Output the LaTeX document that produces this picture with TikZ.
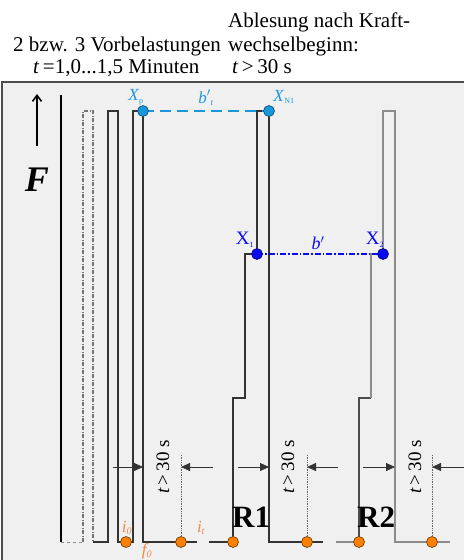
\documentclass[tikz,border=0pt]{standalone}
\usepackage{fontspec}
\setmainfont{Liberation Serif}
\usetikzlibrary{arrows.meta}
\definecolor{bgc}{HTML}{F0F0F0}
\definecolor{lblue}{HTML}{1A96DC}
\definecolor{dblue}{HTML}{0A0AF0}
\definecolor{odot}{HTML}{FF8000}
\definecolor{olab}{HTML}{F08848}
\begin{document}
\begin{tikzpicture}[x=1pt,y=-1pt,
  ln/.style={draw=black!80, line width=1.1pt},
  lngray/.style={draw=black!45, line width=1.1pt},
  dimarrow/.style={draw=black!80, line width=0.8pt, -{Triangle[length=9pt,width=8pt]}},
  dimline/.style={draw=black!60, line width=0.7pt, densely dotted},
  dimtext/.style={rotate=90, font=\fontsize{19}{19}\selectfont, inner sep=0pt},
  odotst/.style={circle, fill=odot, draw=black!60!odot, line width=0.6pt, minimum size=11pt, inner sep=0pt},
  lbdot/.style={circle, fill=lblue, draw=black!50!lblue, line width=0.6pt, minimum size=11pt, inner sep=0pt},
  dbdot/.style={circle, fill=dblue, draw=black!50!dblue, line width=0.6pt, minimum size=11pt, inner sep=0pt},
  toptext/.style={anchor=base west, inner sep=0pt, font=\fontsize{21}{22}\selectfont},
  lbl/.style={inner sep=0pt, font=\fontsize{17}{17}\selectfont},
  olbl/.style={inner sep=0pt, text=olab, font=\fontsize{17}{17}\selectfont\itshape},
  rlab/.style={anchor=base west, inner sep=0pt, font=\fontsize{31}{31}\selectfont\bfseries}
]
\useasboundingbox (0,0) rectangle (464,560);
\fill[white] (0,0) rectangle (464,560);
\fill[bgc] (2,82) rectangle (464,560);
\draw[black!70, line width=1.5pt] (2,560) -- (2,82) -- (464,82);

% header texts
\node[toptext] (h1) at (13,51) {2 bzw. 3 Vorbelastungen};
\node[toptext] (h2) at (33,73) {\textit{t}\,=1,0...1,5 Minuten};
\node[toptext] (h3) at (228,27) {Ablesung nach Kraft-};
\node[toptext] (h4) at (228,51) {wechselbeginn:};
\node[toptext] (h5) at (232,73) {\textit{t}\,>\,30 s};

% force arrow
\coordinate (fa) at (37,146);
\coordinate (fb) at (37,94);
\draw[line width=1.6pt, -{Straight Barb[length=6pt,width=9pt]}] (fa) -- (fb);
\node[inner sep=0pt, font=\fontsize{36}{36}\selectfont\bfseries\itshape] (F) at (37,180) {F};

% coordinates of special points
\coordinate (cxp) at (143,111);
\coordinate (cxn) at (269,111);
\coordinate (cx1) at (257,254);
\coordinate (cx2) at (383,254);

% signal lines
\draw[black, line width=2pt] (61,95) -- (61,542);
\draw[black!45, line width=0.8pt, dashed] (61,542) -- (83,542);
\draw[black!55, line width=1.1pt, dash pattern=on 4pt off 1.5pt on 1pt off 1.5pt] (83,542) -- (83,111) -- (93,111) -- (93,542);
\draw[ln] (93,542) -- (108,542) -- (108,111) -- (118,111) -- (118,542) -- (133,542) -- (133,111) -- (cxp) -- (143,542) -- (197,542);
\draw[ln] (209,542) -- (233,542) -- (233,398) -- (245,398) -- (245,254) -- (cx1) -- (257,111) -- (cxn) -- (269,542) -- (323,542);
\draw[lngray] (336,542) -- (359,542);
\draw[draw=black!70, line width=1.1pt] (359,542) -- (359,398) -- (371,398);
\draw[lngray] (371,398) -- (371,254) -- (cx2) -- (383,111) -- (395,111) -- (395,542) -- (450,542);

% b' lines
\draw[lblue, line width=1.6pt, dash pattern=on 11pt off 6pt] (cxp) -- (cxn);
\draw[dblue, line width=1.4pt, dash pattern=on 6pt off 2pt on 1.5pt off 2pt] (cx1) -- (cx2);

% dimension markers
\coordinate (d1a) at (113,467); \coordinate (d1b) at (143,467);
\coordinate (d1c) at (213,467); \coordinate (d1d) at (181,467);
\coordinate (d1t) at (181,455); \coordinate (d1u) at (181,542);
\draw[dimarrow] (d1a) -- (d1b);
\draw[dimarrow] (d1c) -- (d1d);
\draw[dimline] (d1t) -- (d1u);
\node[dimtext] (t1) at (163,467) {\textit{t}\,>\,30 s};

\coordinate (d2a) at (238,467); \coordinate (d2b) at (269,467);
\coordinate (d2c) at (338,467); \coordinate (d2d) at (307,467);
\coordinate (d2t) at (307,455); \coordinate (d2u) at (307,542);
\draw[dimarrow] (d2a) -- (d2b);
\draw[dimarrow] (d2c) -- (d2d);
\draw[dimline] (d2t) -- (d2u);
\node[dimtext] (t2) at (288,467) {\textit{t}\,>\,30 s};

\coordinate (d3a) at (363,467); \coordinate (d3b) at (395,467);
\coordinate (d3c) at (464,467); \coordinate (d3d) at (432,467);
\coordinate (d3t) at (432,455); \coordinate (d3u) at (432,542);
\draw[dimarrow] (d3a) -- (d3b);
\draw[dimarrow] (d3c) -- (d3d);
\draw[dimline] (d3t) -- (d3u);
\node[dimtext] (t3) at (415,467) {\textit{t}\,>\,30 s};

% R labels
\node[rlab] (r1) at (232,527) {R1};
\node[rlab] (r2) at (357,527) {R2};

% dots
\node[lbdot] (xp) at (cxp) {};
\node[lbdot] (xn) at (cxn) {};
\node[dbdot] (x1) at (cx1) {};
\node[dbdot] (x2) at (cx2) {};
\node[odotst] (o1) at (126,542) {};
\node[odotst] (o2) at (181,542) {};
\node[odotst] (o3) at (233,542) {};
\node[odotst] (o4) at (307,542) {};
\node[odotst] (o5) at (359,542) {};
\node[odotst] (o6) at (432,542) {};

% point labels
\node[lbl, text=lblue] (lxp) at (136,97) {\textit{X}\textsubscript{\fontsize{8}{8}\selectfont p}};
\node[lbl, text=lblue] (lxn) at (284,97) {\textit{X}\textsubscript{\fontsize{8}{8}\selectfont N1}};
\node[lbl, text=lblue] (lbt) at (206,98) {\textit{b}$'$\textsubscript{\fontsize{9}{9}\selectfont\textit{t}}};
\node[lbl, text=dblue, font=\fontsize{19}{19}\selectfont] (lx1) at (245,240) {X\textsubscript{\fontsize{8}{8}\selectfont 1}};
\node[lbl, text=dblue, font=\fontsize{19}{19}\selectfont] (lx2) at (375,240) {X\textsubscript{\fontsize{8}{8}\selectfont 2}};
\node[lbl, text=dblue, font=\fontsize{18}{18}\selectfont\itshape] (lb) at (318,243) {b$'$};
\node[olbl] (li0) at (127,528) {i\textsubscript{\fontsize{10}{10}\selectfont 0}};
\node[olbl] (lf0) at (147,551) {f\textsubscript{\fontsize{10}{10}\selectfont 0}};
\node[olbl] (lit) at (201,528) {i\textsubscript{\fontsize{10}{10}\selectfont t}};
\end{tikzpicture}
\end{document}
